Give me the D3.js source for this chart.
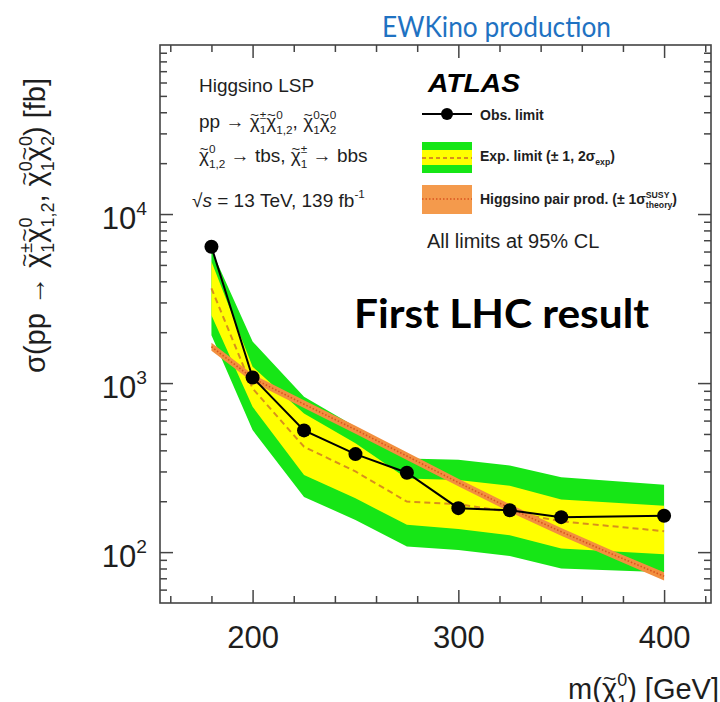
<!DOCTYPE html>
<html>
<head>
<meta charset="utf-8">
<script src="https://cdn.jsdelivr.net/npm/d3@7"></script>
<style>
  html, body { margin: 0; padding: 0; background: #fff; }
  svg { display: block; }
</style>
</head>
<body>
<svg id="chart" width="720" height="702"></svg>
<script>
// Neutralino mass points of the limit scan (GeV)
const massPoints = [180, 200, 225, 250, 275, 300, 325, 350, 400];
// Observed 95% CL cross-section limit (fb)
const obsLimit   = [6400, 1080, 525, 380, 295, 182, 177, 161, 164];
// Expected limit and its ±1σ / ±2σ bands (fb)
const expLimit   = [3630, 930, 420, 300, 199, 192, 173, 152, 133];
const expPlus1   = [5230, 1250, 660, 440, 273, 267, 247, 205, 188];
const expMinus1  = [2520, 724, 286, 208, 145, 137, 126, 105, 97];
const expPlus2   = [6120, 1760, 830, 552, 358, 352, 325, 277, 250];
const expMinus2  = [1920, 527, 212, 155, 108, 103, 95, 80, 76];
// Higgsino pair-production cross section with its theory uncertainty (fb)
const theoryMass = [180, 200, 225, 250, 275, 300, 325, 350, 375, 400];
const theoryXsec = [1640, 1070, 750, 530, 370, 258, 182, 132, 97, 72];
const theoryUp   = [1730, 1129, 791, 559, 390, 272, 192, 139, 102, 76];
const theoryDown = [1555, 1014, 711, 502, 351, 245, 173, 125, 92, 68];
// Axis tick values
const xMajorTicks = [200, 300, 400];
const xMinorTicks = [160, 180, 220, 240, 260, 280, 320, 340, 360, 380, 420];
const yMajorTicks = [100, 1000, 10000];
const yMajorExp   = ["2", "3", "4"];

const FONT = "'Liberation Sans', Arial, Helvetica, sans-serif";
const INK = "#1e1e1e";
const GREEN = "#16e616", YELLOW = "#ffff00", ORANGE = "#f28f3f";

const svg = d3.select("#chart");
const frameL = 160, frameR = 711, frameT = 45, frameB = 603;

const x = d3.scaleLinear().domain([155, 422.8]).range([frameL, frameR]);
const y = d3.scaleLog().domain([50, 1e5]).range([frameB, frameT]);

svg.append("defs").append("clipPath").attr("id", "plotClip")
  .append("rect").attr("x", frameL).attr("y", frameT)
  .attr("width", frameR - frameL).attr("height", frameB - frameT);

// Rich text: runs of plain text with optional tilde, superscript and subscript
function rich(parent, parts, size, attrs = {}) {
  const g = parent.append("g").attr("font-family", FONT).attr("fill", INK);
  Object.entries(attrs).forEach(([k, v]) => g.attr(k, v));
  let cx = 0;
  const nb = s => s.replace(/ /g, "\u00A0");
  parts.forEach(p => {
    if (p.t !== undefined) {
      const t = g.append("text").attr("x", cx).attr("y", 0)
        .attr("font-size", size).text(nb(p.t));
      if (p.italic) t.attr("font-style", "italic");
      const w = t.node().getComputedTextLength();
      if (p.tilde) {
        g.append("text").attr("x", cx + w / 2).attr("y", -size * 0.44)
          .attr("text-anchor", "middle").attr("font-size", size * 0.78).text("~");
      }
      cx += w;
    }
    let sw = 0;
    if (p.sup) {
      const s = g.append("text").attr("x", cx).attr("y", -size * 0.45)
        .attr("font-size", size * 0.62).text(nb(p.sup));
      sw = s.node().getComputedTextLength();
    }
    if (p.sub) {
      const s = g.append("text").attr("x", cx).attr("y", size * 0.3)
        .attr("font-size", size * 0.62).text(nb(p.sub));
      sw = Math.max(sw, s.node().getComputedTextLength());
    }
    cx += sw;
  });
  return { g, width: cx };
}

// ----- bands and curves -----
const plot = svg.append("g").attr("clip-path", "url(#plotClip)");
const idx = d3.range(massPoints.length);

const band = (lo, hi) => d3.area()
  .x(i => x(massPoints[i])).y0(i => y(lo[i])).y1(i => y(hi[i]));

plot.append("path").attr("d", band(expMinus2, expPlus2)(idx)).attr("fill", GREEN);
plot.append("path").attr("d", band(expMinus1, expPlus1)(idx)).attr("fill", YELLOW);
plot.append("path")
  .attr("d", d3.line().x(i => x(massPoints[i])).y(i => y(expLimit[i]))(idx))
  .attr("fill", "none").attr("stroke", "#d8901c").attr("stroke-width", 2)
  .attr("stroke-dasharray", "6,4");

const tIdx = d3.range(theoryMass.length);
plot.append("path")
  .attr("d", d3.area().x(i => x(theoryMass[i])).y0(i => y(theoryDown[i])).y1(i => y(theoryUp[i]))(tIdx))
  .attr("fill", ORANGE);
plot.append("path")
  .attr("d", d3.line().x(i => x(theoryMass[i])).y(i => y(theoryXsec[i]))(tIdx))
  .attr("fill", "none").attr("stroke", "#d9541f").attr("stroke-width", 1.6)
  .attr("stroke-dasharray", "1.5,2");

plot.append("path")
  .attr("d", d3.line().x(i => x(massPoints[i])).y(i => y(obsLimit[i]))(idx))
  .attr("fill", "none").attr("stroke", "#000").attr("stroke-width", 2);
plot.selectAll("circle.obs").data(idx).join("circle").attr("class", "obs")
  .attr("cx", i => x(massPoints[i])).attr("cy", i => y(obsLimit[i]))
  .attr("r", 7).attr("fill", "#000");

// ----- axes (ticks point inward on all four sides) -----
const tickStyle = g => {
  g.select(".domain").remove();
  g.selectAll(".tick line").attr("stroke", "#444").attr("stroke-width", 1.5);
};
const yMinorTicks = [];
[10, 100, 1000, 10000].forEach(d => {
  for (let k = 2; k <= 9; k++) { const v = k * d; if (v > 50 && v < 1e5) yMinorTicks.push(v); }
});

const gxB = svg.append("g").attr("transform", `translate(0,${frameB})`)
  .call(d3.axisBottom(x).tickValues(xMajorTicks).tickSize(-13).tickSizeOuter(0)
    .tickPadding(23).tickFormat(d3.format("d")))
  .call(tickStyle);
gxB.attr("font-family", FONT).attr("font-size", 31);
gxB.selectAll("text").attr("fill", INK);
svg.append("g").attr("transform", `translate(0,${frameB})`)
  .call(d3.axisBottom(x).tickValues(xMinorTicks).tickSize(-7).tickSizeOuter(0).tickFormat(""))
  .call(tickStyle);
svg.append("g").attr("transform", `translate(0,${frameT})`)
  .call(d3.axisTop(x).tickValues(xMajorTicks).tickSize(-13).tickSizeOuter(0).tickFormat(""))
  .call(tickStyle);
svg.append("g").attr("transform", `translate(0,${frameT})`)
  .call(d3.axisTop(x).tickValues(xMinorTicks).tickSize(-7).tickSizeOuter(0).tickFormat(""))
  .call(tickStyle);
svg.append("g").attr("transform", `translate(${frameL},0)`)
  .call(d3.axisLeft(y).tickValues(yMajorTicks).tickSize(-13).tickSizeOuter(0).tickFormat(""))
  .call(tickStyle);
svg.append("g").attr("transform", `translate(${frameL},0)`)
  .call(d3.axisLeft(y).tickValues(yMinorTicks).tickSize(-7).tickSizeOuter(0).tickFormat(""))
  .call(tickStyle);
svg.append("g").attr("transform", `translate(${frameR},0)`)
  .call(d3.axisRight(y).tickValues(yMajorTicks).tickSize(-13).tickSizeOuter(0).tickFormat(""))
  .call(tickStyle);
svg.append("g").attr("transform", `translate(${frameR},0)`)
  .call(d3.axisRight(y).tickValues(yMinorTicks).tickSize(-7).tickSizeOuter(0).tickFormat(""))
  .call(tickStyle);

svg.append("rect").attr("x", frameL).attr("y", frameT)
  .attr("width", frameR - frameL).attr("height", frameB - frameT)
  .attr("fill", "none").attr("stroke", "#444").attr("stroke-width", 1.6);

// y tick labels: 10^n
yMajorTicks.forEach((v, i) => {
  const r = rich(svg, [{ t: "10", sup: yMajorExp[i] }], 31);
  r.g.attr("transform", `translate(${147 - r.width},${y(v) + 15})`);
});

// axis titles
const yTitle = rich(svg, [
  { t: "σ(pp → " },
  { t: "χ", tilde: true, sup: "±", sub: "1" },
  { t: "χ", tilde: true, sup: "0", sub: "1,2" },
  { t: ", " },
  { t: "χ", tilde: true, sup: "0", sub: "1" },
  { t: "χ", tilde: true, sup: "0", sub: "2" },
  { t: ") [fb]" }
], 29);
yTitle.g.attr("transform", "translate(45,373) rotate(-90)");

const xTitle = rich(svg, [
  { t: "m(" },
  { t: "χ", tilde: true, sup: "0", sub: "1" },
  { t: ") [GeV]" }
], 29);
xTitle.g.attr("transform", `translate(${719 - xTitle.width},699)`);

// ----- process description -----
rich(svg, [{ t: "Higgsino LSP" }], 19).g.attr("transform", "translate(199,92)");
rich(svg, [
  { t: "pp → " },
  { t: "χ", tilde: true, sup: "±", sub: "1" },
  { t: "χ", tilde: true, sup: "0", sub: "1,2" },
  { t: ", " },
  { t: "χ", tilde: true, sup: "0", sub: "1" },
  { t: "χ", tilde: true, sup: "0", sub: "2" }
], 19).g.attr("transform", "translate(199,128)");
rich(svg, [
  { t: "χ", tilde: true, sup: "0", sub: "1,2" },
  { t: " → tbs, " },
  { t: "χ", tilde: true, sup: "±", sub: "1" },
  { t: " → bbs" }
], 19).g.attr("transform", "translate(199,162)");
rich(svg, [
  { t: "√" }, { t: "s", italic: true },
  { t: " = 13 TeV, 139 fb", sup: "-1" }
], 19).g.attr("transform", "translate(192,207)");

// ----- legend -----
svg.append("text").attr("x", 428).attr("y", 92)
  .attr("font-family", FONT).attr("font-size", 25).attr("font-weight", "bold")
  .attr("font-style", "italic").attr("fill", "#000")
  .attr("textLength", 92).attr("lengthAdjust", "spacingAndGlyphs").text("ATLAS");

svg.append("line").attr("x1", 422).attr("x2", 472).attr("y1", 114).attr("y2", 114)
  .attr("stroke", "#000").attr("stroke-width", 2);
svg.append("circle").attr("cx", 447).attr("cy", 114).attr("r", 6).attr("fill", "#000");
rich(svg, [{ t: "Obs. limit" }], 14, { "font-weight": "bold" }).g
  .attr("transform", "translate(480,120)");

svg.append("rect").attr("x", 422).attr("y", 142).attr("width", 50).attr("height", 31).attr("fill", GREEN);
svg.append("rect").attr("x", 422).attr("y", 150).attr("width", 50).attr("height", 15).attr("fill", YELLOW);
svg.append("line").attr("x1", 422).attr("x2", 472).attr("y1", 158).attr("y2", 158)
  .attr("stroke", "#d8901c").attr("stroke-width", 2).attr("stroke-dasharray", "4,3");
rich(svg, [{ t: "Exp. limit (± 1, 2σ", sub: "exp" }, { t: ")" }], 14, { "font-weight": "bold" }).g
  .attr("transform", "translate(480,161)");

svg.append("rect").attr("x", 422).attr("y", 185).attr("width", 50).attr("height", 29).attr("fill", "#f49a4c");
svg.append("line").attr("x1", 422).attr("x2", 472).attr("y1", 199).attr("y2", 199)
  .attr("stroke", "#d9541f").attr("stroke-width", 1.4).attr("stroke-dasharray", "1.5,2");
rich(svg, [{ t: "Higgsino pair prod. (± 1σ", sup: "SUSY", sub: "theory" }, { t: ")" }], 14, { "font-weight": "bold" }).g
  .attr("transform", "translate(480,204)");

rich(svg, [{ t: "All limits at 95% CL" }], 20).g.attr("transform", "translate(427,248)");

// ----- slide annotations -----
svg.append("text").attr("x", 382).attr("y", 37)
  .attr("font-family", "Lato, 'Open Sans', sans-serif").attr("font-size", 29)
  .attr("fill", "#1f72c2").attr("textLength", 229).attr("lengthAdjust", "spacingAndGlyphs")
  .text("EWKino production");
svg.append("text").attr("x", 354).attr("y", 328)
  .attr("font-family", "Lato, 'Open Sans', sans-serif").attr("font-size", 41)
  .attr("font-weight", "bold").attr("fill", "#000")
  .attr("textLength", 295).attr("lengthAdjust", "spacingAndGlyphs")
  .text("First LHC result");
</script>
</body>
</html>
